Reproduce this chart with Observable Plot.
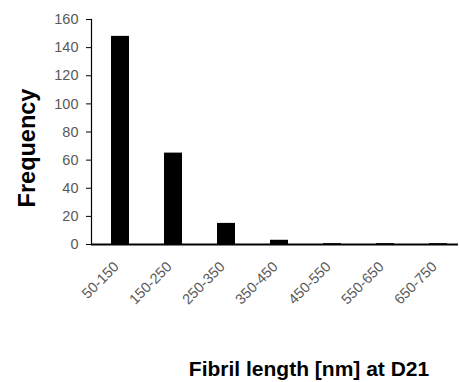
<!DOCTYPE html>
<html><head><meta charset="utf-8">
<script src="https://cdn.jsdelivr.net/npm/d3@7"></script>
<script src="https://cdn.jsdelivr.net/npm/@observablehq/plot@0.6"></script>
<style>body{margin:0;background:#fff}</style>
</head><body><div id="c"></div>
<script>
const categories = ["50-150","150-250","250-350","350-450","450-550","550-650","650-750"];
const frequency = [148, 65, 15, 3, 0.6, 0.6, 0.6];
const yTicks = [0,20,40,60,80,100,120,140,160];
const xTitle = "Fibril length [nm] at D21";
const yTitle = "Frequency";
const data = categories.map((c,i)=>({c, v: frequency[i]}));
const chart = Plot.plot({
  width: 459, height: 382,
  marginLeft: 91, marginRight: 1, marginTop: 19, marginBottom: 138,
  style: {fontFamily: "Liberation Sans, Arial, sans-serif", background: "#fff"},
  x: {domain: categories, range: [91, 467], paddingInner: 0.66, paddingOuter: 0.37, label: null},
  y: {domain: [0,160], label: null},
  marks: [
    Plot.barY(data, {x: "c", y: "v", fill: "#000"}),
    Plot.axisY({ticks: yTicks, tickSize: 5, tickPadding: 8, fontSize: 14.5, fill: "#595959", stroke: "#000", label: null}),
    Plot.axisX({tickSize: 0, tickRotate: -45, fontSize: 14.5, fill: "#595959", textAnchor: "end", dx: -4, dy: 8, label: null}),
    Plot.frame({anchor: "left", stroke: "#000", strokeWidth: 1.2}),
    Plot.ruleY([0], {stroke: "#000", strokeWidth: 2}),
    Plot.text([xTitle], {frameAnchor: "bottom", textAnchor: "middle", lineAnchor: "bottom", dx: 34, dy: 131, fontSize: 21, fontWeight: "bold", fill: "#000"}),
    Plot.text([yTitle], {frameAnchor: "left", textAnchor: "middle", lineAnchor: "middle", rotate: -90, dx: -64, dy: 16, fontSize: 23.5, fontWeight: "bold", fill: "#000"})
  ]
});
document.getElementById("c").appendChild(chart);
</script></body></html>
